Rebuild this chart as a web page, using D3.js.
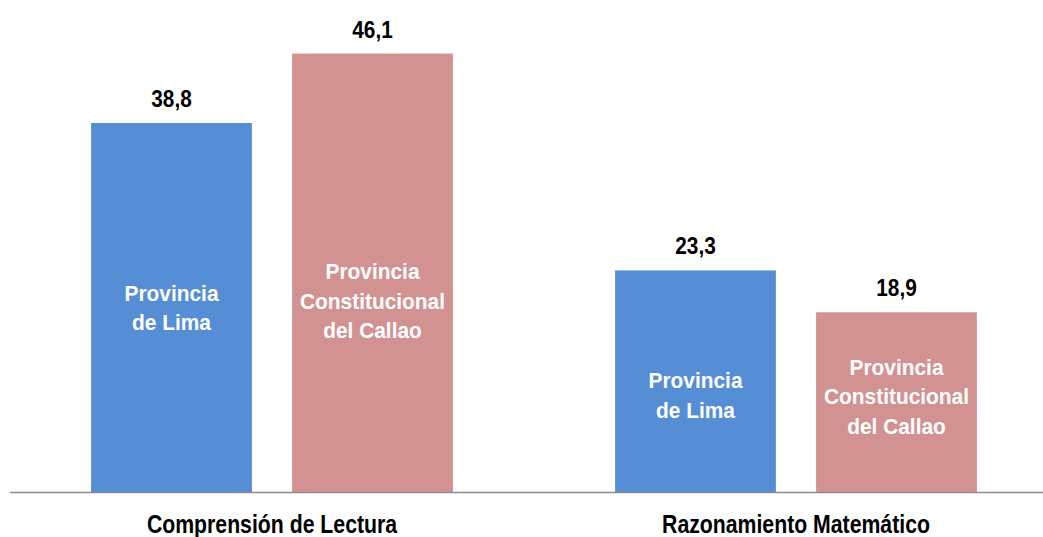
<!DOCTYPE html>
<html>
<head>
<meta charset="utf-8">
<script src="https://cdn.jsdelivr.net/npm/d3@7"></script>
<style>
  body { margin: 0; background: #fff; }
  svg { display: block; font-family: "Liberation Sans Narrow", "Arial Narrow", "Liberation Sans", sans-serif; font-weight: bold; }
</style>
</head>
<body>
<div id="chart"></div>
<script>
// chart values
const categories = ["Comprensión de Lectura", "Razonamiento Matemático"];
const series = ["Provincia de Lima", "Provincia Constitucional del Callao"];
const seriesLines = [["Provincia", "de Lima"], ["Provincia", "Constitucional", "del Callao"]];
const lima = [38.8, 23.3];
const callao = [46.1, 18.9];

const width = 1043;
const height = 537;
const baseY = 492;

const colors = { "Provincia de Lima": "#558ed5", "Provincia Constitucional del Callao": "#d39292" };

const rows = categories.map((c, i) => ({
    cat: c,
    values: [
        { s: series[0], v: lima[i], lines: seriesLines[0] },
        { s: series[1], v: callao[i], lines: seriesLines[1] }
    ]
}));

const x0 = d3.scaleBand().domain(categories).range([10, 1058]);
const x1 = d3.scaleBand().domain(series).range([0, x0.bandwidth()])
    .paddingInner(0.2).paddingOuter(0.4035);
const y = d3.scaleLinear().domain([0, 50]).range([baseY, baseY - 50 * 9.51]);

const svg = d3.select("#chart").append("svg")
    .attr("width", width)
    .attr("height", height);

// no narrow font installed, so squeeze text horizontally
const squeeze = (cx, cy, sx) => `translate(${cx},${cy}) scale(${sx},1)`;

const groups = svg.selectAll(".grp")
    .data(rows)
    .join("g")
    .attr("class", "grp")
    .attr("transform", d => `translate(${x0(d.cat)},0)`);

// bars
groups.selectAll("rect")
    .data(d => d.values)
    .join("rect")
    .attr("x", d => x1(d.s))
    .attr("y", d => y(d.v))
    .attr("width", x1.bandwidth())
    .attr("height", d => baseY - y(d.v))
    .attr("fill", d => colors[d.s]);

// value labels
groups.selectAll(".val")
    .data(d => d.values)
    .join("text")
    .attr("class", "val")
    .attr("transform", d => squeeze(x1(d.s) + x1.bandwidth() / 2, y(d.v) - 16, 0.85))
    .attr("text-anchor", "middle")
    .attr("font-size", "24.5px")
    .attr("fill", "#000")
    .text(d => d3.format(".1f")(d.v).replace(".", ","));

// labels inside bars (shift tweaks to follow the original placement)
const labelShift = [[0, 28], [14, -6]];
groups.each(function(g, gi) {
    d3.select(this).selectAll(".inner")
        .data(g.values)
        .join("text")
        .attr("class", "inner")
        .attr("text-anchor", "middle")
        .attr("font-size", "22px")
        .attr("fill", "#fff")
        .each(function(d, si) {
            const cx = x1(d.s) + x1.bandwidth() / 2;
            const mid = (y(d.v) + baseY) / 2 + labelShift[gi][si];
            const lh = 29.5;
            const top = mid - (d.lines.length - 1) * lh / 2;
            d3.select(this)
                .attr("transform", squeeze(cx, top, 0.95))
                .selectAll("tspan")
                .data(d.lines)
                .join("tspan")
                .attr("x", 0)
                .attr("y", (t, k) => k * lh + 8)
                .text(t => t);
        });
});

// baseline
svg.append("line")
    .attr("x1", 10).attr("x2", width)
    .attr("y1", baseY + 0.5).attr("y2", baseY + 0.5)
    .attr("stroke", "#8c8c8c")
    .attr("stroke-width", 1.5);

// category labels
svg.selectAll(".cat")
    .data(categories)
    .join("text")
    .attr("class", "cat")
    .attr("transform", d => squeeze(x0(d) + x0.bandwidth() / 2, 533, 0.85))
    .attr("text-anchor", "middle")
    .attr("font-size", "25px")
    .attr("fill", "#000")
    .text(d => d);
</script>
</body>
</html>
